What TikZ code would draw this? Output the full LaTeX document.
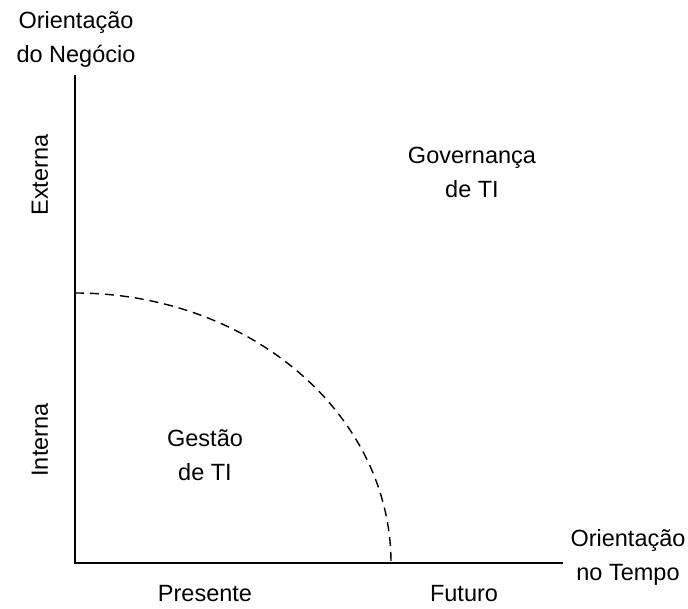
\documentclass[tikz,border=0pt]{standalone}
\usepackage{fontspec}
\setmainfont{Liberation Sans}
\usetikzlibrary{positioning}

\begin{document}
\begin{tikzpicture}[x=1pt,y=1pt,
    lbl/.style={align=center,font=\fontsize{23.5}{34}\selectfont,inner sep=0pt}]
    \useasboundingbox (0,0) rectangle (688,608);
    % axes
    \coordinate (O) at (75,45);
    \coordinate (top) at (75,533);
    \coordinate (right) at (563,45);
    \draw[line width=2.2pt] (top) -- (O) -- (right);
    % limite entre gestao e governanca
    \draw[line width=1.4pt,dash pattern=on 9pt off 6pt] (75,315) arc[start angle=90,end angle=0,x radius=316,y radius=270];
    \node[lbl] (yaxis) at (76,569) {Orientação\\do Negócio};
    \node[lbl] (xaxis) at (628,51) {Orientação\\no Tempo};
    \node[lbl,rotate=90] (ext) at (40,433) {Externa};
    \node[lbl,rotate=90] (int) at (40,168) {Interna};
    \node[lbl] (gov) at (472,436) {Governança\\de TI};
    \node[lbl] (gest) at (205,153) {Gestão\\de TI};
    \node[lbl] (pres) at (205,14) {Presente};
    \node[lbl] (fut) at (464,14) {Futuro};
\end{tikzpicture}
\end{document}
